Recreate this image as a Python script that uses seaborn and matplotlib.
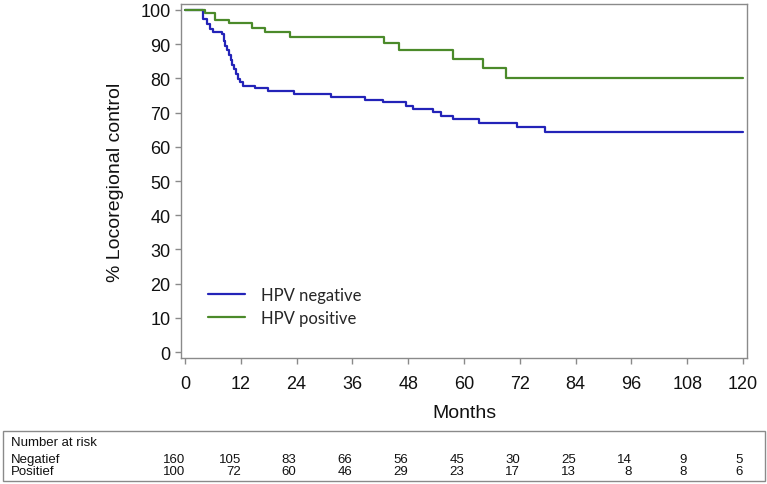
import matplotlib
matplotlib.use("Agg")
import matplotlib.pyplot as plt
import matplotlib.transforms as mtransforms
from matplotlib.patches import Rectangle
import numpy as np
import pandas as pd
import seaborn as sns

# Kaplan-Meier steps
neg_months = [0, 3.9, 4.7, 5.4, 6.0, 7.9, 8.3, 8.6, 9.0, 9.4, 9.8, 10.2, 10.6, 11.0,
              11.4, 11.8, 12.5, 15.1, 17.9, 23.4, 31.4, 38.7, 42.5, 47.5, 49.0, 53.3,
              55.0, 57.6, 63.2, 71.4, 77.4, 120]
neg_pct = [100, 97.4, 95.9, 94.4, 93.6, 93.0, 91.0, 89.6, 88.2, 86.8, 85.5, 84.0, 82.6,
           81.2, 79.8, 78.8, 77.7, 77.1, 76.4, 75.4, 74.6, 73.8, 73.0, 72.0, 71.1, 70.1,
           69.1, 68.1, 67.0, 65.7, 64.4, 64.4]

pos_months = [0, 4.3, 6.5, 9.5, 14.4, 17.2, 22.6, 42.8, 46.0, 57.6, 64.1, 69.0, 120]
pos_pct = [100, 99.1, 97.1, 96.1, 94.6, 93.5, 92.2, 90.4, 88.4, 85.8, 82.9, 80.0, 80.0]

groups = ["HPV negative", "HPV positive"]
colors = ["#2323b8", "#4b8a2a"]

risk_months = [0, 12, 24, 36, 48, 60, 72, 84, 96, 108, 120]
neg_at_risk = [160, 105, 83, 66, 56, 45, 30, 25, 14, 9, 5]
pos_at_risk = [100, 72, 60, 46, 29, 23, 17, 13, 8, 8, 6]
risk_rows = ["Negatief", "Positief"]

df = pd.concat([
    pd.DataFrame({"Months": neg_months, "pct": neg_pct, "group": groups[0]}),
    pd.DataFrame({"Months": pos_months, "pct": pos_pct, "group": groups[1]}),
], ignore_index=True)

sns.set_theme(style="ticks")
plt.rcParams["font.family"] = ["Liberation Sans", "DejaVu Sans"]

W, H = 767, 485
fig = plt.figure(figsize=(W / 100, H / 100), dpi=100)
ax = fig.add_axes([181 / W, 1 - 359 / H, (747 - 181) / W, (359 - 5) / H])

sns.lineplot(data=df, x="Months", y="pct", hue="group", hue_order=groups,
             palette=colors, drawstyle="steps-post", estimator=None,
             linewidth=1.6, ax=ax)

ax.set_xlim(-0.86, 120.86)
ax.set_ylim(-1.75, 101.75)
ax.set_xticks(risk_months)
ax.set_yticks(np.arange(0, 101, 10))
gray = "#8a8a8a"
for sp in ax.spines.values():
    sp.set_color(gray)
    sp.set_linewidth(1.0)
ax.tick_params(colors=gray, labelcolor="#111111", labelsize=13, length=4, width=1)
ax.tick_params(axis="x", pad=8)
ax.set_xlabel("")
ax.set_ylabel("% Locoregional control", fontsize=14, color="#111111", labelpad=12)

fig.text(464 / W, 1 - 414 / H, "Months", fontsize=14, ha="center", va="center",
         color="#111111")

leg = ax.legend(loc="upper left", bbox_to_anchor=(208 / W, 1 - 288 / H),
                bbox_transform=fig.transFigure, frameon=False,
                handlelength=2.2, handletextpad=1.0, labelspacing=0.4,
                borderpad=0, borderaxespad=0,
                prop={"family": ["Lato", "DejaVu Sans"], "size": 12})

# number at risk table
fig.patches.append(Rectangle((3 / W, 1 - 482 / H), (765 - 3) / W, (482 - 432) / H,
                             transform=fig.transFigure, fill=False,
                             edgecolor=gray, linewidth=1.0))
fig.text(11 / W, 1 - 443 / H, "Number at risk", fontsize=9.5, va="center",
         color="#111111")
trans = mtransforms.blended_transform_factory(ax.transData, fig.transFigure)
for row, counts, yp in [(risk_rows[0], neg_at_risk, 460), (risk_rows[1], pos_at_risk, 472)]:
    fig.text(11 / W, 1 - yp / H, row, fontsize=9.5, va="center", color="#111111")
    for m, n in zip(risk_months, counts):
        ax.text(m, 1 - yp / H, str(n), transform=trans, fontsize=9.5, ha="right",
                va="center", color="#111111", clip_on=False)

fig.savefig("out.png", dpi=100)
